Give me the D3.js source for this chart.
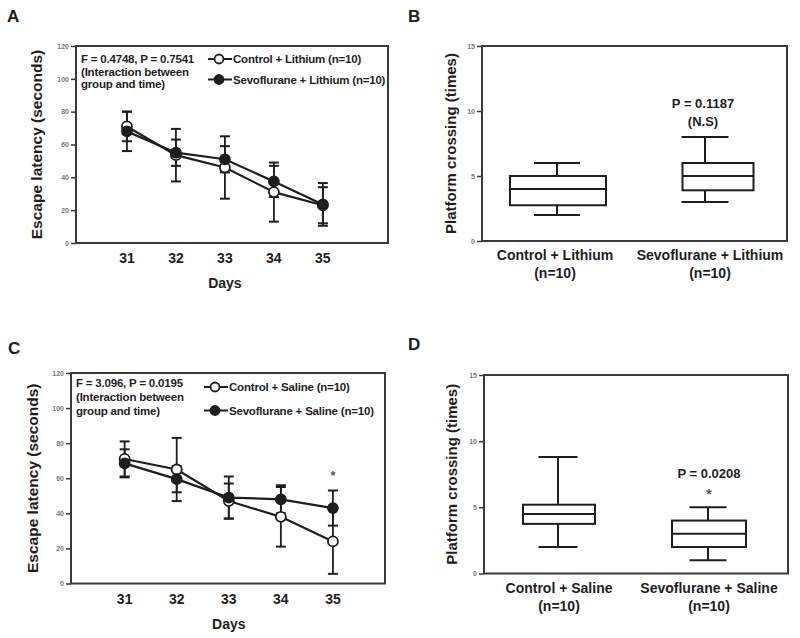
<!DOCTYPE html>
<html><head><meta charset="utf-8">
<script src="https://cdn.jsdelivr.net/npm/d3@7/dist/d3.min.js"></script>
<style>
html,body{margin:0;padding:0;background:#fff;}
text{font-family:"Liberation Sans",Arial,sans-serif;font-weight:bold;fill:#1e1e1e;}
</style></head>
<body>
<svg id="c" width="800" height="638"></svg>
<script>
// ---------- DATA ----------
const days = [31, 32, 33, 34, 35];
const dayTicks = ["31", "32", "33", "34", "35"];
const latencyTicks = [0, 20, 40, 60, 80, 100, 120];
const crossingTicks = [0, 5, 10, 15];

// Panel A
const ctrlLiMean = [71, 53.5, 46, 31, 23];
const ctrlLiErr  = [9, 16, 19, 18, 11];
const sevoLiMean = [68, 55, 51, 37.5, 23.5];
const sevoLiErr  = [12, 8, 8, 9.5, 13];
const legendA = ["Control + Lithium (n=10)", "Sevoflurane + Lithium (n=10)"];
const statsA = ["F = 0.4748, P = 0.7541", "(Interaction between", "group and time)"];

// Panel C
const ctrlSaMean = [71, 65, 47, 38, 24];
const ctrlSaErr  = [10, 18, 10, 17, 18.5];
const sevoSaMean = [68.5, 59.5, 49, 48, 43];
const sevoSaErr  = [8, 7.5, 12, 8, 10];
const legendC = ["Control + Saline (n=10)", "Sevoflurane + Saline (n=10)"];
const statsC = ["F = 3.096, P = 0.0195", "(Interaction between", "group and time)"];
const starDaysC = [35];
const starValC = [63];

// Panel B
const catsB = ["Control + Lithium", "Sevoflurane + Lithium"];
const minB = [2, 3];
const q1B  = [2.75, 3.9];
const medB = [4, 5];
const q3B  = [5, 6];
const maxB = [6, 8];
const annB = ["P = 0.1187", "(N.S)"];

// Panel D
const catsD = ["Control + Saline", "Sevoflurane + Saline"];
const minD = [2, 1];
const q1D  = [3.75, 2];
const medD = [4.5, 3];
const q3D  = [5.2, 4];
const maxD = [8.8, 5];
const annD = ["P = 0.0208", "*"];

// ---------- DRAW ----------
const svg = d3.select("#c");
const ink = "#1e1e1e", frameCol = "#3a3a3a";

function letter(t, x, y){
  svg.append("text").attr("x", x).attr("y", y).attr("font-size", 17).text(t);
}

function frame(x0, x1, y0, y1){
  svg.append("rect").attr("x", x0).attr("y", y1).attr("width", x1 - x0).attr("height", y0 - y1)
    .attr("fill", "none").attr("stroke", frameCol).attr("stroke-width", 2);
}

function yAxis(y, x0, ticks){
  const g = svg.append("g").attr("transform", `translate(${x0},0)`)
    .call(d3.axisLeft(y).tickValues(ticks).tickSize(5).tickPadding(2));
  g.select(".domain").remove();
  g.selectAll("line").attr("stroke", frameCol).attr("stroke-width", 1.5);
  g.selectAll("text").attr("font-size", 7).attr("font-weight", "normal").style("fill", "#777");
}

function yTitle(t, x, yc, fs){
  svg.append("text").attr("transform", `translate(${x},${yc}) rotate(-90)`)
    .attr("text-anchor", "middle").attr("font-size", fs).text(t);
}

function linePanel(o){
  const x = d3.scaleLinear().domain(o.xd).range(o.xr);
  const y = d3.scaleLinear().domain([0, 120]).range(o.yr);
  frame(o.xr[0], o.xr[1], o.yr[0], o.yr[1]);
  yAxis(y, o.xr[0], latencyTicks);
  days.forEach((d, i) => {
    svg.append("text").attr("x", x(d)).attr("y", o.yr[0] + 20).attr("text-anchor", "middle")
      .attr("font-size", 14).text(dayTicks[i]);
  });
  svg.append("text").attr("x", x(33)).attr("y", o.yr[0] + 45).attr("text-anchor", "middle")
    .attr("font-size", 14).text("Days");
  yTitle("Escape latency (seconds)", o.titleX, (o.yr[0] + o.yr[1]) / 2, 15.5);

  const series = [
    {m: o.ctrlMean, e: o.ctrlErr, fill: "#fff"},
    {m: o.sevoMean, e: o.sevoErr, fill: ink}
  ];
  const line = d3.line().x((d, i) => x(days[i])).y(d => y(d));
  series.forEach(s => {
    s.m.forEach((v, i) => {
      const cx = x(days[i]);
      svg.append("line").attr("x1", cx).attr("x2", cx).attr("y1", y(v - s.e[i])).attr("y2", y(v + s.e[i]))
        .attr("stroke", ink).attr("stroke-width", 1.8);
      [v - s.e[i], v + s.e[i]].forEach(w => {
        svg.append("line").attr("x1", cx - 5).attr("x2", cx + 5).attr("y1", y(w)).attr("y2", y(w))
          .attr("stroke", ink).attr("stroke-width", 2);
      });
    });
    svg.append("path").attr("d", line(s.m)).attr("fill", "none").attr("stroke", ink).attr("stroke-width", 2.2);
  });
  series.forEach(s => {
    s.m.forEach((v, i) => {
      svg.append("circle").attr("cx", x(days[i])).attr("cy", y(v)).attr("r", 5)
        .attr("fill", s.fill).attr("stroke", ink).attr("stroke-width", 1.8);
    });
  });
  o.stats.forEach((t, i) => {
    svg.append("text").attr("x", o.statsX).attr("y", o.statsY + i * o.statsDy).attr("font-size", 11.5)
      .style("letter-spacing", "-0.2px").text(t);
  });
  o.legend.forEach((t, i) => {
    const ly = o.legY + i * o.legDy;
    svg.append("line").attr("x1", o.legX).attr("x2", o.legX + 24).attr("y1", ly).attr("y2", ly)
      .attr("stroke", ink).attr("stroke-width", 2);
    svg.append("circle").attr("cx", o.legX + 11).attr("cy", ly).attr("r", 4.5)
      .attr("fill", series[i].fill).attr("stroke", ink).attr("stroke-width", 1.8);
    svg.append("text").attr("x", o.legX + 25).attr("y", ly + 4).attr("font-size", 11.5)
      .style("letter-spacing", "-0.2px").text(t);
  });
  if (o.stars) o.stars.forEach((d, i) => {
    svg.append("text").attr("x", x(d)).attr("y", y(o.starVals[i]) + 7).attr("text-anchor", "middle")
      .attr("font-size", 13).style("fill", "#555").text("*");
  });
}

function boxPanel(o){
  const x = d3.scalePoint().domain(o.cats).range(o.catR);
  const y = d3.scaleLinear().domain([0, 15]).range(o.yr);
  frame(o.xr[0], o.xr[1], o.yr[0], o.yr[1]);
  yAxis(y, o.xr[0], crossingTicks);
  yTitle("Platform crossing (times)", o.titleX, (o.yr[0] + o.yr[1]) / 2, 15);
  o.cats.forEach((c, i) => {
    const wx = x(c) + o.whiskShift[i], bx = x(c) + o.boxShift[i];
    const bw = o.boxW[i], cw = o.capW[i];
    const st = sel => sel.attr("stroke", ink).attr("stroke-width", 2).attr("fill", "none");
    st(svg.append("line").attr("x1", wx).attr("x2", wx).attr("y1", y(o.max[i])).attr("y2", y(o.q3[i])));
    st(svg.append("line").attr("x1", wx).attr("x2", wx).attr("y1", y(o.q1[i])).attr("y2", y(o.min[i])));
    [o.max[i], o.min[i]].forEach(v => st(svg.append("line").attr("x1", wx - cw / 2).attr("x2", wx + cw / 2)
      .attr("y1", y(v)).attr("y2", y(v))));
    st(svg.append("rect").attr("x", bx - bw / 2).attr("width", bw).attr("y", y(o.q3[i]))
      .attr("height", y(o.q1[i]) - y(o.q3[i])));
    st(svg.append("line").attr("x1", bx - bw / 2).attr("x2", bx + bw / 2)
      .attr("y1", y(o.med[i])).attr("y2", y(o.med[i])));
    svg.append("text").attr("x", x(c)).attr("y", o.yr[0] + 19).attr("text-anchor", "middle")
      .attr("font-size", 14).text(c);
    svg.append("text").attr("x", x(c)).attr("y", o.yr[0] + 37).attr("text-anchor", "middle")
      .attr("font-size", 14).text("(n=10)");
  });
  const ax = x(o.cats[1]) + o.annShift;
  svg.append("text").attr("x", ax).attr("y", o.annY[0]).attr("text-anchor", "middle")
    .attr("font-size", 13).text(o.ann[0]);
  svg.append("text").attr("x", ax).attr("y", o.annY[1]).attr("text-anchor", "middle")
    .attr("font-size", o.ann[1] === "*" ? 14 : 13).style("fill", o.ann[1] === "*" ? "#555" : ink).text(o.ann[1]);
}

letter("A", 7, 22);
letter("B", 408, 22);
letter("C", 8, 354);
letter("D", 408, 350);

linePanel({xd: [29.96, 36.33], xr: [76, 388], yr: [243, 46],
  ctrlMean: ctrlLiMean, ctrlErr: ctrlLiErr, sevoMean: sevoLiMean, sevoErr: sevoLiErr,
  stats: statsA, statsX: 81, statsY: 63, statsDy: 12.5, legend: legendA, legX: 208, legY: 59, legDy: 20.5, titleX: 42});

linePanel({xd: [29.97, 36.0], xr: [71, 385], yr: [583.5, 373],
  ctrlMean: ctrlSaMean, ctrlErr: ctrlSaErr, sevoMean: sevoSaMean, sevoErr: sevoSaErr,
  stats: statsC, statsX: 76, statsY: 387, statsDy: 14, legend: legendC, legX: 204, legY: 387, legDy: 23.5, titleX: 38,
  stars: starDaysC, starVals: starValC});

boxPanel({cats: catsB, catR: [555, 710], xr: [482, 787], yr: [241, 46],
  min: minB, q1: q1B, med: medB, q3: q3B, max: maxB,
  whiskShift: [2, -5], boxShift: [3, 8], boxW: [96, 71], capW: [46, 47],
  ann: annB, annY: [108, 126], annShift: -7, titleX: 456});

boxPanel({cats: catsD, catR: [559, 709], xr: [484, 788], yr: [573.5, 375],
  min: minD, q1: q1D, med: medD, q3: q3D, max: maxD,
  whiskShift: [-1, -1], boxShift: [0, 0], boxW: [72, 74], capW: [39, 37],
  ann: annD, annY: [478, 499], annShift: 0, titleX: 457});
</script>
</body></html>
